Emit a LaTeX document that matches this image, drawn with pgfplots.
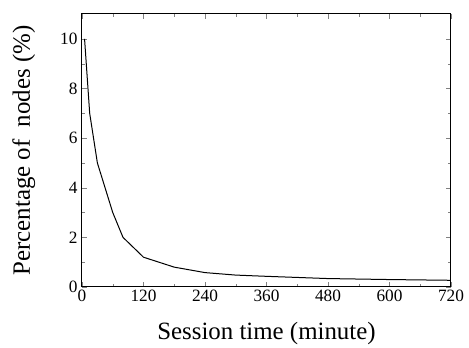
\documentclass[border=0pt]{standalone}
\usepackage{fontspec}
\setmainfont{Liberation Serif}
\usepackage{pgfplots}
\pgfplotsset{compat=1.18}
\begin{document}
\begin{tikzpicture}
\begin{axis}[
  scale only axis,
  width=369pt, height=273pt,
  xmin=0, xmax=720, ymin=0, ymax=11,
  xtick={0,120,240,360,480,600,720},
  minor xtick={60,180,300,420,540,660},
  ytick={0,2,4,6,8,10},
  minor ytick={1,3,5,7,9},
  tick align=inside,
  xtick pos=both, ytick pos=both,
  major tick length=5pt, minor tick length=3pt,
  axis line style={line width=1pt},
  /pgf/number format/assume math mode=true,
  every tick label/.append style={font=\LARGE},
  xticklabel style={yshift=1pt},
  yticklabel style={xshift=-1pt},
  xlabel style={font=\Huge, yshift=-14pt},
  ylabel style={font=\Huge, yshift=18pt},
  xlabel={Session time (minute)},
  ylabel={Percentage of\ \ nodes (\%)},
]
\addplot[black, line width=1pt] coordinates {
  (5,10) (15,7) (30,5) (60,3) (80,2) (120,1.2) (180,0.8) (240,0.58) (300,0.48) (360,0.43) (480,0.34) (600,0.30) (720,0.27)
};
\end{axis}
\path ([shift={(-82pt,-59pt)}]current axis.south west) rectangle ([shift={(18pt,14pt)}]current axis.north east);
\end{tikzpicture}
\end{document}
